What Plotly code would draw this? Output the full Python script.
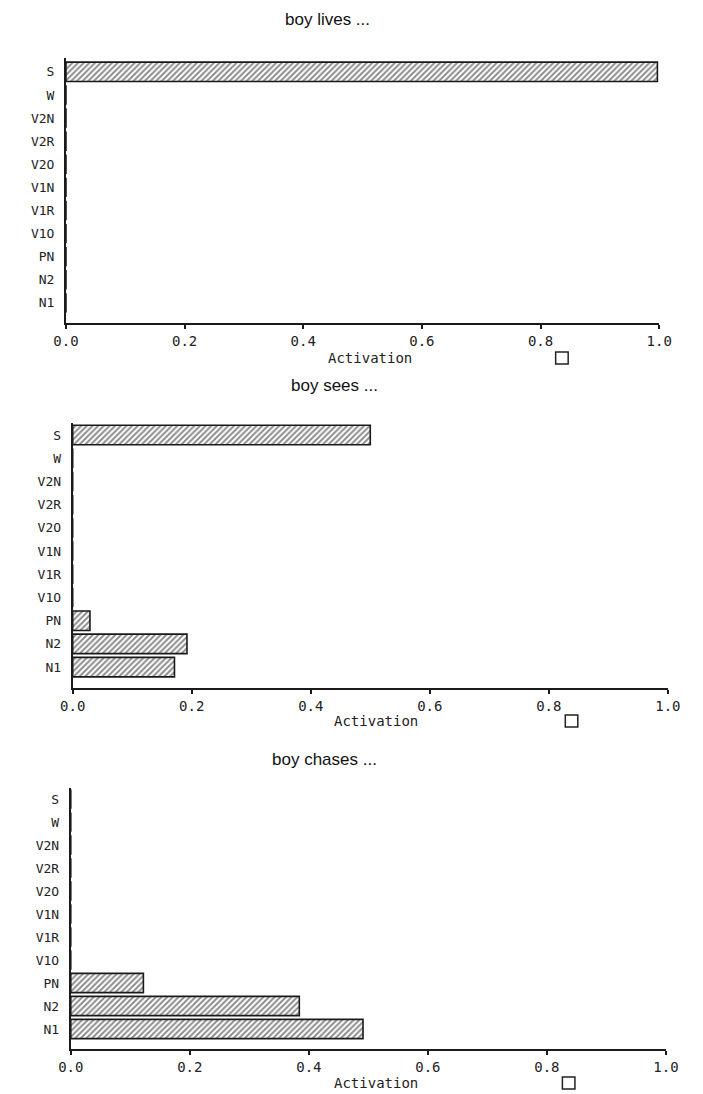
import plotly.graph_objects as go

# Output-unit categories (bottom to top)
categories = ["N1", "N2", "PN", "V1O", "V1R", "V1N", "V2O", "V2R", "V2N", "W", "S"]
tick_vals = [0.0, 0.2, 0.4, 0.6, 0.8, 1.0]
tick_text = ["0.0", "0.2", "0.4", "0.6", "0.8", "1.0"]

titles = ["boy lives ...", "boy sees ...", "boy chases ..."]

lives_values = [0.0, 0.0, 0.0, 0.0, 0.0, 0.0, 0.0, 0.0, 0.0, 0.0, 0.997]
sees_values = [0.171, 0.192, 0.029, 0.0, 0.0, 0.0, 0.0, 0.0, 0.0, 0.0, 0.50]
chases_values = [0.491, 0.384, 0.122, 0.0, 0.0, 0.0, 0.0, 0.0, 0.0, 0.0, 0.0]

W, H = 703, 1094

# panel geometry in page pixels
panels = [
    dict(x0=55, x1=671, y0=58, y1=323, rng=[-0.87, 10.6], title_xy=(327, 20), act_xy=(371, 358), box_xy=(570, 358)),
    dict(x0=62, x1=680, y0=423, y1=688, rng=[-0.9, 10.52], title_xy=(334, 385), act_xy=(377, 721), box_xy=(580, 721)),
    dict(x0=60, x1=678, y0=788, y1=1049, rng=[-0.87, 10.48], title_xy=(323, 759), act_xy=(377, 1083), box_xy=(577, 1083)),
]
series = [lives_values, sees_values, chases_values]

stroke_font = "DejaVu Sans Mono"
title_font = "Liberation Sans"

fig = go.Figure()
layout = dict(
    width=W, height=H,
    margin=dict(l=0, r=0, t=0, b=0),
    paper_bgcolor="white", plot_bgcolor="white",
    showlegend=False, bargap=0.16,
    annotations=[], shapes=[],
)

def px_x(x):
    return x / W

def px_y(y):
    return 1 - y / H

for i, (p, vals, ttl) in enumerate(zip(panels, series, titles)):
    n = "" if i == 0 else str(i + 1)
    fig.add_trace(go.Bar(
        x=vals, y=categories, orientation="h",
        xaxis="x" + n, yaxis="y" + n,
        marker=dict(
            color="white",
            line=dict(color="#1a1a1a", width=1.6),
            pattern=dict(shape="/", fgcolor="#1a1a1a", bgcolor="white", size=4, solidity=0.5),
        ),
        hoverinfo="x+y",
    ))
    layout["xaxis" + n] = dict(
        domain=[px_x(p["x0"]), px_x(p["x1"])],
        anchor="y" + n, range=[0, 1.0], tickvals=tick_vals, ticktext=tick_text,
        showgrid=False, zeroline=False, showline=True, linecolor="#1a1a1a", linewidth=2,
        ticks="outside", ticklen=4, tickwidth=1.5, tickcolor="#1a1a1a",
        tickfont=dict(family=stroke_font, size=14, color="#222"),
        fixedrange=True,
    )
    layout["yaxis" + n] = dict(
        domain=[px_y(p["y1"]), px_y(p["y0"])],
        anchor="x" + n, type="category", categoryorder="array", categoryarray=categories,
        range=p["rng"], showgrid=False, zeroline=False, showline=True,
        linecolor="#1a1a1a", linewidth=2, ticks="",
        tickfont=dict(family=stroke_font, size=13, color="#222"),
        ticklabelstandoff=7, fixedrange=True,
    )
    tx, ty = p["title_xy"]
    layout["annotations"].append(dict(
        text=ttl, x=px_x(tx), y=px_y(ty), xref="paper", yref="paper",
        showarrow=False, xanchor="center", yanchor="middle",
        font=dict(family=title_font, size=17, color="#111"),
    ))
    ax_, ay_ = p["act_xy"]
    layout["annotations"].append(dict(
        text="Activation", x=px_x(ax_), y=px_y(ay_), xref="paper", yref="paper",
        showarrow=False, xanchor="center", yanchor="middle",
        font=dict(family=stroke_font, size=14, color="#222"),
    ))
    bx, by = p["box_xy"]
    layout["shapes"].append(dict(
        type="rect", xref="paper", yref="paper",
        x0=px_x(bx - 6.5), x1=px_x(bx + 6.5), y0=px_y(by + 6), y1=px_y(by - 6),
        line=dict(color="#222", width=1.5), fillcolor="white",
    ))

fig.update_layout(**layout)
fig.write_html(
    "out.html",
    config={"displayModeBar": False},
    post_script="document.body.style.margin='0';document.body.style.overflow='hidden';",
)
